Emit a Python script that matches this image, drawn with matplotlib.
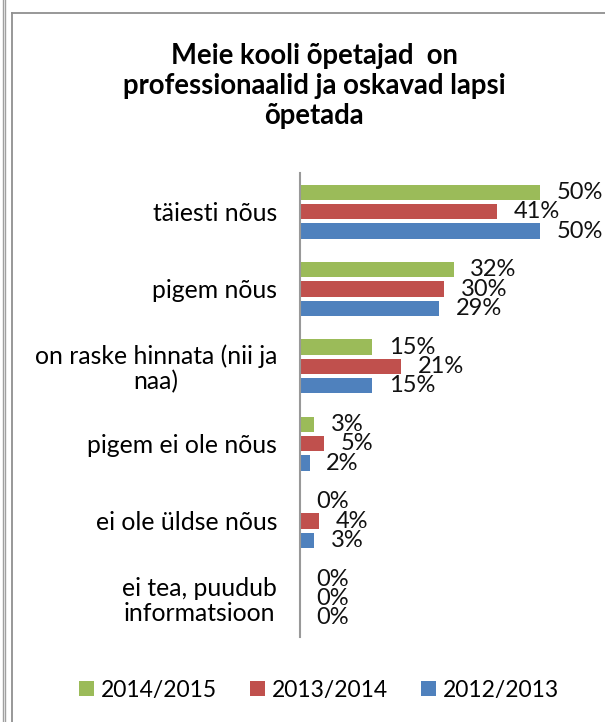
import matplotlib.pyplot as plt
from matplotlib.lines import Line2D
import numpy as np

categories = ["täiesti nõus", "pigem nõus", "on raske hinnata (nii ja\nnaa)",
              "pigem ei ole nõus", "ei ole üldse nõus", "ei tea, puudub\ninformatsioon"]
years = ["2014/2015", "2013/2014", "2012/2013"]
v2014 = [50, 32, 15, 3, 0, 0]
v2013 = [41, 30, 21, 5, 4, 0]
v2012 = [50, 29, 15, 2, 3, 0]
colors = ["#9BBB59", "#C0504D", "#4F81BD"]

plt.rcParams['font.family'] = ['Lato', 'DejaVu Sans']

fig = plt.figure(figsize=(6.05, 7.22), dpi=100)

# outer frame lines
for x in [2.5 / 605, 4.5 / 605]:
    fig.add_artist(Line2D([x, x], [0, 1], color="#a0a0a0", lw=1, transform=fig.transFigure))
fig.add_artist(Line2D([12 / 605, 12 / 605], [0, 1 - 12.5 / 722], color="#909090", lw=1.3, transform=fig.transFigure))
fig.add_artist(Line2D([12 / 605, 1], [1 - 12.5 / 722, 1 - 12.5 / 722], color="#909090", lw=1.3, transform=fig.transFigure))

ax = fig.add_axes([300 / 605, 1 - 637 / 722, 288 / 605, (637 - 173) / 722])

y = np.arange(len(categories))
series = [v2014, v2013, v2012]
offsets = [-0.25, 0, 0.25]
for vals, off, c, lab in zip(series, offsets, colors, years):
    ax.barh(y + off, vals, height=0.2, color=c, label=lab)
    for yy, v in zip(y + off, vals):
        ax.annotate(f"{v}%", (v, yy), xytext=(12, 0), textcoords="offset points",
                    va="center", ha="left", fontsize=17, color="#111111")

ax.set_ylim(len(categories) - 0.5, -0.5)
ax.set_xlim(0, 60)
ax.set_yticks(y)
ax.set_yticklabels(categories, fontsize=17.8, multialignment="center", linespacing=1.1)
ax.tick_params(axis="y", length=0, pad=16.5)
ax.set_xticks([])
for s in ["top", "right", "bottom"]:
    ax.spines[s].set_visible(False)
ax.spines["left"].set_color("#999999")
ax.spines["left"].set_linewidth(1.5)

fig.text(314 / 605, 1 - 86 / 722, "Meie kooli õpetajad  on\nprofessionaalid ja oskavad lapsi\nõpetada",
         ha="center", va="center", fontsize=19.8, fontweight="bold", linespacing=1.2)

fig.legend(loc="center", bbox_to_anchor=(319 / 605, 1 - 690 / 722), ncol=3, frameon=False,
           fontsize=16.5, handlelength=0.65, handleheight=0.65, handletextpad=0.3, columnspacing=1.45)

fig.savefig("out.png", dpi=100)
